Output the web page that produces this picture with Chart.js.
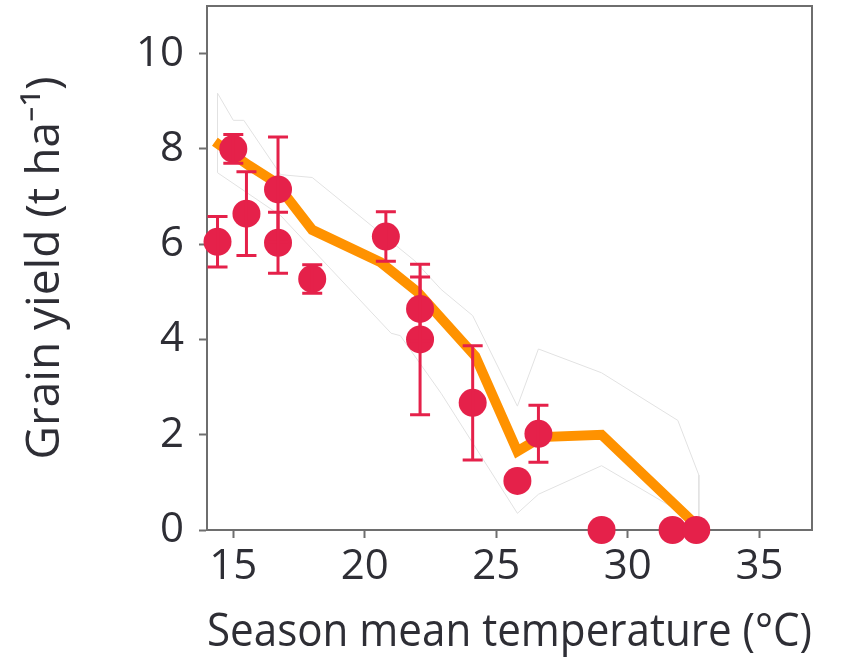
<!DOCTYPE html>
<html>
<head>
<meta charset="utf-8">
<script src="https://cdn.jsdelivr.net/npm/chart.js@4.4.0/dist/chart.umd.min.js"></script>
<style>
  body { margin: 0; background: #fff; }
  canvas { display: block; }
</style>
</head>
<body>
<canvas id="myChart" width="846" height="661"></canvas>
<script>
// observed yields (red dots) with error bars
const obsTemp  = [14.4, 15.0, 15.5, 16.7, 16.7, 18.0, 20.8, 22.1, 22.1, 24.1, 25.8, 26.6, 29.0, 31.7, 32.6];
const obsYield = [6.05, 8.0, 6.64, 7.15, 6.03, 5.27, 6.16, 4.64, 4.0, 2.67, 1.03, 2.02, 0, 0, 0];
const obsErr   = [0.53, 0.3, 0.88, 1.1, 0.64, 0.3, 0.52, 0.67, 1.58, 1.2, 0, 0.6, 0, 0, 0];

// simulated mean (orange line)
const modelTemp  = [14.3, 15.6, 16.6, 18.0, 20.6, 22.0, 24.2, 25.8, 26.7, 29.0, 32.6];
const modelYield = [8.15, 7.65, 7.3, 6.3, 5.62, 5.0, 3.65, 1.65, 1.95, 2.0, 0.1];

// simulated range (thin grey outline)
const envTemp  = [14.4, 15.0, 15.4, 16.8, 18.0, 21.9, 22.9, 24.1, 25.8, 26.6, 29.0, 31.9, 32.7, 32.7,
                  29.0, 26.6, 25.8, 22.9, 21.35, 21.0, 16.8, 14.4, 14.4];
const envYield = [9.17, 8.6, 8.6, 7.46, 7.4, 5.65, 5.05, 4.5, 2.6, 3.8, 3.3, 2.3, 1.15, 0.15,
                  1.35, 0.75, 0.35, 2.87, 4.08, 4.13, 6.6, 7.5, 9.17];

const xTicks = [15, 20, 25, 30, 35];
const yTicks = [0, 2, 4, 6, 8, 10];

const RED = '#E5214A';
const ORANGE = '#FF9200';
const AXIS = '#6e6e6e';
const TEXT = '#2e2e35';
const FONT = "'Open Sans', sans-serif";

function toPoints(xs, ys) {
  return xs.map((x, i) => ({ x: x, y: ys[i] }));
}

// error bars + top/right frame
const extras = {
  id: 'extras',
  afterDatasetsDraw(chart) {
    const ctx = chart.ctx;
    const xs = chart.scales.x, ys = chart.scales.y;
    ctx.save();
    ctx.strokeStyle = RED;
    ctx.lineWidth = 3;
    obsTemp.forEach((t, i) => {
      if (!obsErr[i]) return;
      const px = xs.getPixelForValue(t);
      const top = ys.getPixelForValue(obsYield[i] + obsErr[i]);
      const bot = ys.getPixelForValue(obsYield[i] - obsErr[i]);
      ctx.beginPath();
      ctx.moveTo(px, top); ctx.lineTo(px, bot);
      ctx.moveTo(px - 10, top); ctx.lineTo(px + 10, top);
      ctx.moveTo(px - 10, bot); ctx.lineTo(px + 10, bot);
      ctx.stroke();
    });
    const a = chart.chartArea;
    ctx.strokeStyle = AXIS;
    ctx.lineWidth = 2;
    ctx.beginPath();
    ctx.moveTo(a.left, a.top);
    ctx.lineTo(a.right, a.top);
    ctx.lineTo(a.right, a.bottom);
    ctx.stroke();
    ctx.restore();
  }
};

const ctx = document.getElementById('myChart').getContext('2d');
const myChart = new Chart(ctx, {
  type: 'scatter',
  data: {
    datasets: [
      {
        label: 'range',
        data: toPoints(envTemp, envYield),
        showLine: true,
        borderColor: '#e2e2e2',
        borderWidth: 1,
        pointRadius: 0,
        order: 3
      },
      {
        label: 'simulated',
        data: toPoints(modelTemp, modelYield),
        showLine: true,
        borderColor: ORANGE,
        borderWidth: 10,
        borderJoinStyle: 'miter',
        pointRadius: 0,
        order: 2
      },
      {
        label: 'observed',
        data: toPoints(obsTemp, obsYield),
        backgroundColor: RED,
        borderColor: RED,
        borderWidth: 0,
        pointRadius: 14,
        clip: 20,
        order: 1
      }
    ]
  },
  options: {
    responsive: false,
    animation: false,
    layout: { autoPadding: false, padding: { top: 6, right: 34, left: 0, bottom: 0 } },
    plugins: {
      legend: { display: false },
      tooltip: { enabled: false }
    },
    scales: {
      x: {
        type: 'linear',
        min: 14,
        max: 37,
        afterBuildTicks: s => { s.ticks = xTicks.map(v => ({ value: v })); },
        afterFit: s => { s.height = 131; s.paddingLeft = 0; s.paddingRight = 0; },
        border: { color: AXIS, width: 2 },
        grid: { drawOnChartArea: false, tickLength: 8, tickWidth: 2, tickColor: AXIS },
        ticks: { color: TEXT, padding: 4, font: { family: FONT, size: 42 } },
        title: {
          display: true,
          text: 'Season mean temperature (°C)',
          color: TEXT,
          padding: { top: 0, bottom: 1 },
          font: { family: FONT, size: 46 }
        }
      },
      y: {
        type: 'linear',
        min: 0,
        max: 11,
        afterBuildTicks: s => { s.ticks = yTicks.map(v => ({ value: v })); },
        afterFit: s => { s.width = 207; s.paddingTop = 0; s.paddingBottom = 0; },
        border: { color: AXIS, width: 2 },
        grid: { drawOnChartArea: false, tickLength: 8, tickWidth: 2, tickColor: AXIS },
        ticks: { color: TEXT, padding: 15, font: { family: FONT, size: 42 } },
        title: {
          display: true,
          text: 'Grain yield (t ha⁻¹)',
          color: TEXT,
          padding: { top: 18, bottom: 0 },
          font: { family: FONT, size: 46 }
        }
      }
    }
  },
  plugins: [extras]
});
</script>
</body>
</html>
